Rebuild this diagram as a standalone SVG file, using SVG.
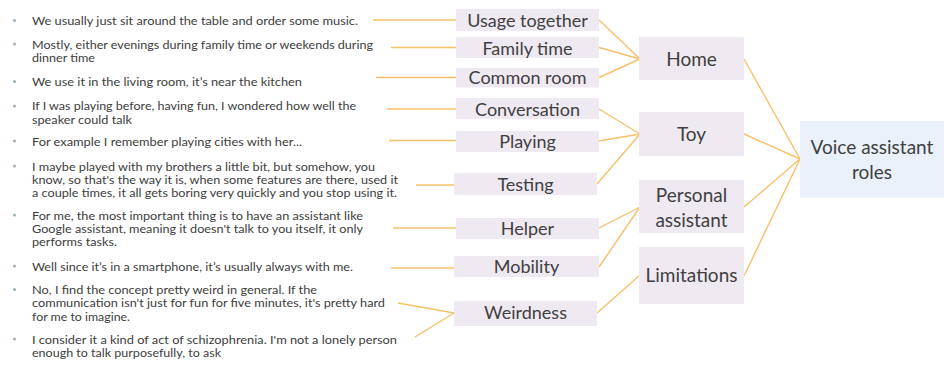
<svg xmlns="http://www.w3.org/2000/svg" width="946" height="372" viewBox="0 0 946 372">
<style>
.q{font-family:Lato,"Liberation Sans",sans-serif;font-size:11px;fill:#3d3d3d}
.b{fill:#a0b3bd}
.n{fill:#efe9f2}
.r{fill:#eaf1fb}
.l1{font-family:Lato,"Liberation Sans",sans-serif;font-size:18px;fill:#404040;text-anchor:middle}
.l2{font-family:Lato,"Liberation Sans",sans-serif;font-size:19px;fill:#404040;text-anchor:middle}
.c line{stroke:#f8c06a;stroke-width:1.4;fill:none}
</style>
<rect width="946" height="372" fill="#ffffff"/>
<g id="quotes">
<circle class="b" cx="14.5" cy="20.5" r="1.6"/>
<text class="q" x="32" y="25" textLength="326" lengthAdjust="spacingAndGlyphs">We usually just sit around the table and order some music.</text>
<circle class="b" cx="14.5" cy="44" r="1.6"/>
<text class="q" x="32" y="48.8" textLength="341" lengthAdjust="spacingAndGlyphs">Mostly, either evenings during family time or weekends during</text>
<text class="q" x="32" y="62" textLength="63" lengthAdjust="spacingAndGlyphs">dinner time</text>
<circle class="b" cx="14.5" cy="81.5" r="1.6"/>
<text class="q" x="32" y="86" textLength="270" lengthAdjust="spacingAndGlyphs">We use it in the living room, it’s near the kitchen</text>
<circle class="b" cx="14.5" cy="106" r="1.6"/>
<text class="q" x="32" y="110.3" textLength="324" lengthAdjust="spacingAndGlyphs">If I was playing before, having fun, I wondered how well the</text>
<text class="q" x="32" y="123.5" textLength="100" lengthAdjust="spacingAndGlyphs">speaker could talk</text>
<circle class="b" cx="14.5" cy="141" r="1.6"/>
<text class="q" x="32" y="145.5" textLength="270" lengthAdjust="spacingAndGlyphs">For example I remember playing cities with her...</text>
<circle class="b" cx="14.5" cy="166" r="1.6"/>
<text class="q" x="32" y="170.5" textLength="343" lengthAdjust="spacingAndGlyphs">I maybe played with my brothers a little bit, but somehow, you</text>
<text class="q" x="32" y="183.7" textLength="366" lengthAdjust="spacingAndGlyphs">know, so that's the way it is, when some features are there, used it</text>
<text class="q" x="32" y="196.9" textLength="365" lengthAdjust="spacingAndGlyphs">a couple times, it all gets boring very quickly and you stop using it.</text>
<circle class="b" cx="14.5" cy="215" r="1.6"/>
<text class="q" x="32" y="219.8" textLength="331" lengthAdjust="spacingAndGlyphs">For me, the most important thing is to have an assistant like</text>
<text class="q" x="32" y="233" textLength="331" lengthAdjust="spacingAndGlyphs">Google assistant, meaning it doesn't talk to you itself, it only</text>
<text class="q" x="32" y="246.2" textLength="85" lengthAdjust="spacingAndGlyphs">performs tasks.</text>
<circle class="b" cx="14.5" cy="266" r="1.6"/>
<text class="q" x="32" y="270.5" textLength="321" lengthAdjust="spacingAndGlyphs">Well since it’s in a smartphone, it’s usually always with me.</text>
<circle class="b" cx="14.5" cy="289.5" r="1.6"/>
<text class="q" x="32" y="294.2" textLength="285" lengthAdjust="spacingAndGlyphs">No, I find the concept pretty weird in general. If the</text>
<text class="q" x="32" y="307.4" textLength="353" lengthAdjust="spacingAndGlyphs">communication isn't just for fun for five minutes, it's pretty hard</text>
<text class="q" x="32" y="320.6" textLength="98" lengthAdjust="spacingAndGlyphs">for me to imagine.</text>
<circle class="b" cx="14.5" cy="339" r="1.6"/>
<text class="q" x="32" y="343.7" textLength="365" lengthAdjust="spacingAndGlyphs">I consider it a kind of act of schizophrenia. I'm not a lonely person</text>
<text class="q" x="32" y="356.9" textLength="189" lengthAdjust="spacingAndGlyphs">enough to talk purposefully, to ask</text>
</g>
<g class="c" id="connectors">
<line x1="373" y1="20" x2="456" y2="20"/>
<line x1="391" y1="47.5" x2="456" y2="47.5"/>
<line x1="376" y1="77.5" x2="456" y2="77.5"/>
<line x1="387" y1="109" x2="456" y2="109"/>
<line x1="389" y1="140.5" x2="456" y2="140.5"/>
<line x1="416" y1="185" x2="454" y2="185"/>
<line x1="393" y1="228" x2="456" y2="228"/>
<line x1="391" y1="268" x2="454" y2="268"/>
<line x1="398" y1="303" x2="454" y2="313"/>
<line x1="415" y1="337" x2="454" y2="313"/>
<line x1="599" y1="20" x2="640" y2="59"/>
<line x1="599" y1="47.5" x2="640" y2="59"/>
<line x1="599" y1="77.5" x2="640" y2="59"/>
<line x1="599" y1="109" x2="640" y2="134"/>
<line x1="599" y1="141" x2="640" y2="134"/>
<line x1="597" y1="184" x2="640" y2="134"/>
<line x1="599" y1="228" x2="640" y2="207"/>
<line x1="599" y1="267" x2="640" y2="207"/>
<line x1="597" y1="313" x2="640" y2="275"/>
<line x1="744" y1="59" x2="800" y2="159"/>
<line x1="744" y1="134" x2="800" y2="159"/>
<line x1="744" y1="207" x2="800" y2="159"/>
<line x1="744" y1="276" x2="800" y2="159"/>
</g>
<g id="n-usage"><rect class="n" x="456" y="9" width="143" height="22"/><text class="l1" x="527.5" y="26.5">Usage together</text></g>
<g id="n-family"><rect class="n" x="456" y="37" width="143" height="21"/><text class="l1" x="527.5" y="54.5">Family time</text></g>
<g id="n-common"><rect class="n" x="456" y="68" width="143" height="19.5"/><text class="l1" x="527.5" y="84">Common room</text></g>
<g id="n-conversation"><rect class="n" x="456" y="98" width="143" height="21"/><text class="l1" x="527.5" y="115.5">Conversation</text></g>
<g id="n-playing"><rect class="n" x="456" y="131" width="143" height="21"/><text class="l1" x="527.5" y="147.5">Playing</text></g>
<g id="n-testing"><rect class="n" x="454" y="173" width="143" height="22"/><text class="l1" x="525.5" y="190.5">Testing</text></g>
<g id="n-helper"><rect class="n" x="456" y="218" width="143" height="21"/><text class="l1" x="527.5" y="235">Helper</text></g>
<g id="n-mobility"><rect class="n" x="454" y="256" width="145" height="21"/><text class="l1" x="526.5" y="273">Mobility</text></g>
<g id="n-weirdness"><rect class="n" x="454" y="301" width="143" height="25"/><text class="l1" x="525.5" y="319">Weirdness</text></g>
<g id="n-home"><rect class="n" x="639" y="37" width="105" height="43"/><text class="l2" x="691.5" y="66">Home</text></g>
<g id="n-toy"><rect class="n" x="639" y="112" width="105" height="44"/><text class="l2" x="691.5" y="141">Toy</text></g>
<g id="n-pa"><rect class="n" x="639" y="180" width="105" height="53"/><text class="l2" x="691.5" y="201.5">Personal</text><text class="l2" x="691.5" y="226.5">assistant</text></g>
<g id="n-limitations"><rect class="n" x="639" y="247" width="105" height="57"/><text class="l2" x="691.5" y="281.5">Limitations</text></g>
<g id="n-root"><rect class="r" x="800" y="121" width="144" height="77"/><text class="l2" x="872" y="153.5">Voice assistant</text><text class="l2" x="872" y="178.5">roles</text></g>
</svg>
